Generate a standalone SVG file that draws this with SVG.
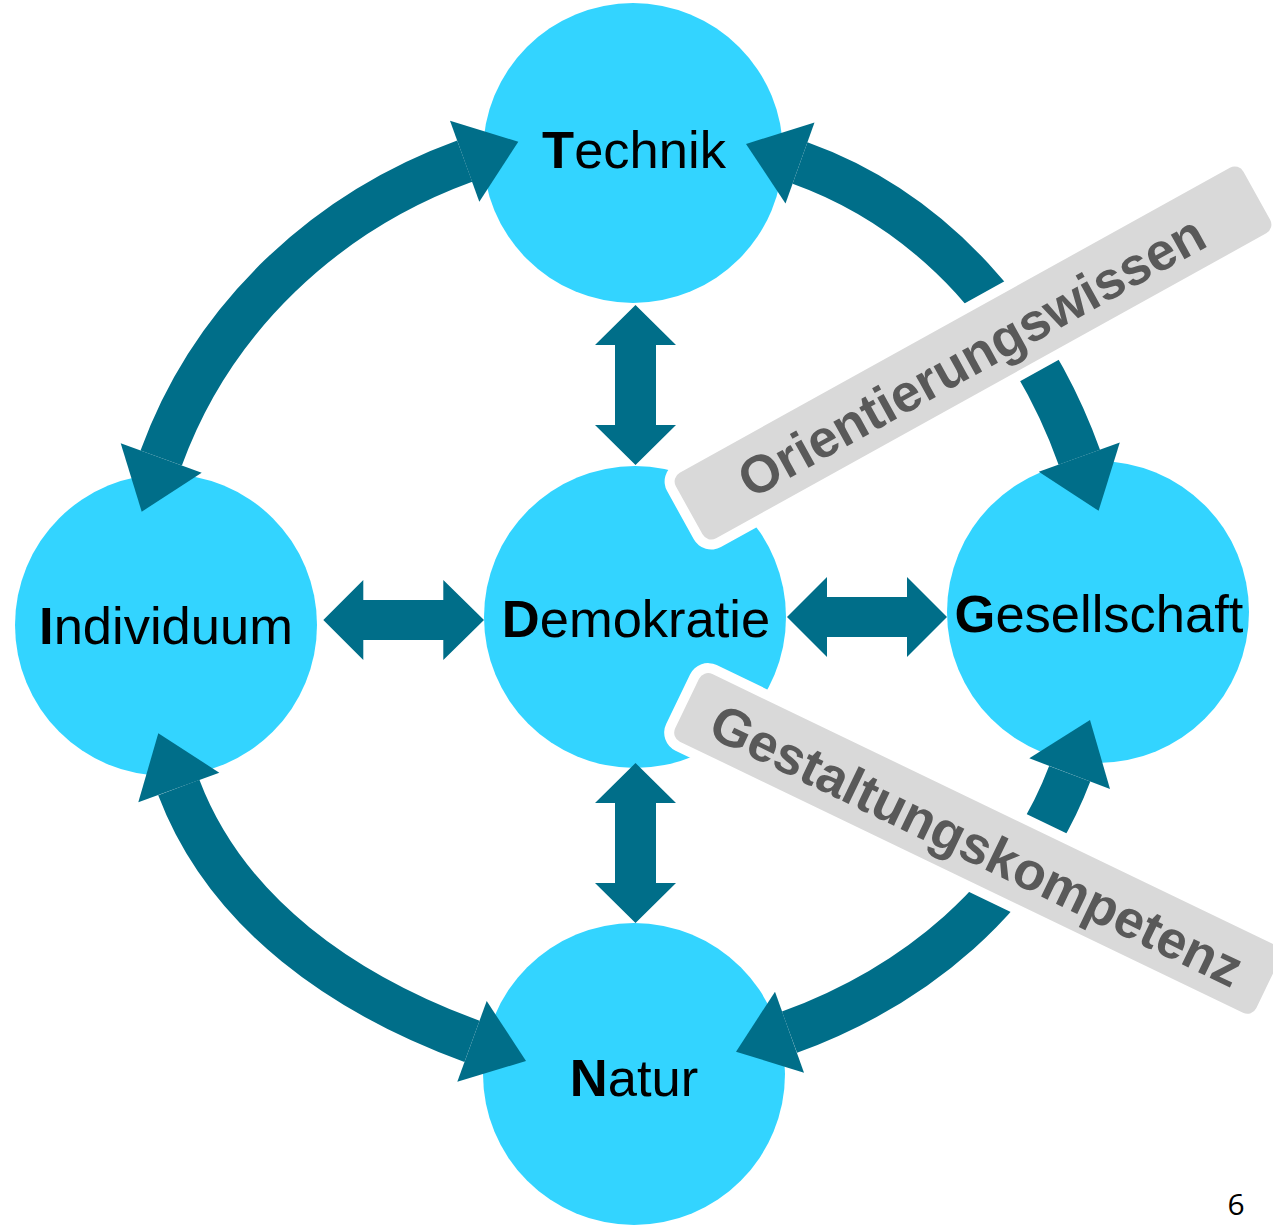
<svg xmlns="http://www.w3.org/2000/svg" width="1273" height="1225" viewBox="0 0 1273 1225">
  <style>
    .node { fill: #33D4FF; }
    .lbl { font-family: "Liberation Sans", Arial, sans-serif; font-size: 52.5px; fill: #000000; text-anchor: middle; }
    .lbl .b { font-weight: bold; }
    .band { fill: none; stroke: #006E89; stroke-width: 44; stroke-linecap: butt; }
    .head { fill: #006E89; }
    .bw { fill: #FFFFFF; }
    .bg { fill: #D9D9D9; }
    .btxt { font-family: "Liberation Sans", Arial, sans-serif; font-size: 53px; font-weight: bold; fill: #595959; text-anchor: middle; }
    .pg { font-family: "Open Sans", "Noto Sans", sans-serif; font-size: 30px; fill: #000000; text-anchor: middle; }
  </style>
  <rect width="1273" height="1225" fill="#FFFFFF"/>

  <g id="node-technik">
    <circle class="node" cx="633" cy="153" r="150"/>
    <text class="lbl" x="634" y="168"><tspan class="b">T</tspan>echnik</text>
  </g>
  <g id="node-individuum">
    <circle class="node" cx="166" cy="625" r="151"/>
    <text class="lbl" x="166" y="644"><tspan class="b">I</tspan>ndividuum</text>
  </g>
  <g id="node-demokratie">
    <circle class="node" cx="635" cy="617" r="151"/>
    <text class="lbl" x="636" y="637"><tspan class="b">D</tspan>emokratie</text>
  </g>
  <g id="node-gesellschaft">
    <circle class="node" cx="1098" cy="612" r="151"/>
    <text class="lbl" x="1099" y="632"><tspan class="b">G</tspan>esellschaft</text>
  </g>
  <g id="node-natur">
    <circle class="node" cx="634" cy="1074" r="151"/>
    <text class="lbl" x="634" y="1096"><tspan class="b">N</tspan>atur</text>
  </g>

  <g id="connectors">
    <!-- Technik <-> Individuum -->
    <path class="band" d="M464.7,161.2 C325.1,212 212,318.1 161.2,458"/>
    <polygon class="head" points="518.3,141.7 450,120.7 479.3,201.7"/>
    <polygon class="head" points="141.7,511.7 120.7,443.3 201.7,472.7"/>
    <!-- Individuum <-> Natur -->
    <path class="band" d="M178.8,787.5 C226.7,914.1 344.9,994.9 472,1041.3"/>
    <polygon class="head" points="158.3,733.3 138.3,802.3 219.3,772.7"/>
    <polygon class="head" points="526,1061 486.7,1001 457.3,1081.7"/>
    <!-- Technik <-> Gesellschaft -->
    <path class="band" d="M800,163 C933.8,210.9 1031.2,323.6 1079.3,457.2"/>
    <polygon class="head" points="746,144 814.5,122.5 785.5,203.5"/>
    <polygon class="head" points="1098.6,510.8 1119.8,442.6 1038.8,471.8"/>
    <!-- Gesellschaft <-> Natur -->
    <path class="band" d="M1069.7,773.7 C1022.5,898.4 914.7,986.5 789.5,1032.2"/>
    <polygon class="head" points="1090,720 1029.3,758.3 1110,789"/>
    <polygon class="head" points="736,1051.7 775,991.7 804,1072.7"/>
    <!-- Individuum <-> Demokratie -->
    <polygon class="head" points="323.3,620 363.3,580 363.3,600 443.3,600 443.3,580 484,620 443.3,660 443.3,640 363.3,640 363.3,660"/>
    <!-- Demokratie <-> Gesellschaft -->
    <polygon class="head" points="787,617 827,577 827,597 907,597 907,577 947,617 907,657 907,637 827,637 827,657"/>
    <!-- Technik <-> Demokratie -->
    <polygon class="head" points="635.5,305 676,345 656,345 656,425 676,425 635.5,465 595,425 615,425 615,345 595,345"/>
    <!-- Demokratie <-> Natur -->
    <polygon class="head" points="635.5,763 676,803 656,803 656,883 676,883 635.5,923 595,883 615,883 615,803 595,803"/>
  </g>

  <g id="banner-orientierungswissen" transform="translate(973,353) rotate(-29)">
    <rect class="bw" x="-334.5" y="-47.5" width="669" height="95" rx="20"/>
    <rect class="bg" x="-324.5" y="-37.5" width="649" height="75" rx="10"/>
    <text class="btxt" x="-3" y="20.5">Orientierungswissen</text>
  </g>
  <g id="banner-gestaltungskompetenz" transform="translate(977.7,843.4) rotate(25.7)">
    <rect class="bw" x="-332.5" y="-47.5" width="665" height="95" rx="20"/>
    <rect class="bg" x="-322.5" y="-37.5" width="645" height="75" rx="10"/>
    <text class="btxt" x="0" y="20.5">Gestaltungskompetenz</text>
  </g>

  <text class="pg" x="1236" y="1215">6</text>
</svg>
